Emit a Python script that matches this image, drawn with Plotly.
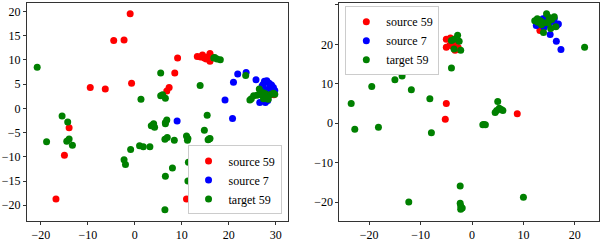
import plotly.graph_objects as go

# Left panel
L_src59_x = [-1, -4.5, -2.3, 9.1, -9.5, -6.3, -0.7, 8.5, 7.3, 6.8, -14, -15, -16.8, 11,
             13.3, 14.4, 14.8, 15.5, 16.0, 16.4, 16.0, 15.2, 14.0, 29.6]
L_src59_y = [19.5, 14, 14.1, 10.4, 4.3, 4.0, 5.2, 7.3, 4.3, 3.6, -4, -9.7, -18.7, -18.7,
             10.7, 11.0, 10.4, 10.6, 11.3, 10.5, 9.7, 10.2, 10.6, 2.8]
L_src7_x = [9.0, 19.2, 21.0, 21.9, 23.7, 20.8, 25.8, 26.6, 27.8, 27.6, 28.1, 28.6, 29.1,
            29.5, 29.8, 27.1, 27.8, 28.6, 29.2, 28.3, 26.8, 27.3]
L_src7_y = [-2.6, 1.7, 5.4, 7.1, 7.4, -2.1, 5.9, 1.2, 1.2, 5.6, 5.7, 5.2, 4.8, 4.3, 3.7,
            4.6, 3.9, 4.0, 3.3, 1.6, 3.5, 4.9]
L_tgt59_x = [-20.8, -18.8, -15.5, -14.3, -14.5, -14.0, -13.3, 1.3, 5.5, 5.5, 5.9, 6.5, 13.9,
             15.4, 14.8, 15.8, 15.6, 16.0, 11.0, 11.3, 11.2, 6.8, 6.5, 6.5, 4.0, 3.5, 4.2,
             3.9, 6.4, 6.9, 8.4, 1.0, 1.8, 3.2, -0.9, -2.3, -2.0, 11.4, 8.0, 6.5, 11.3, 6.4,
             17.0, 17.5, 18.2, 16.8, 23.6, 26.5, 24.5, 24.8, 25.3, 26.0, 26.8, 27.5, 28.0,
             28.5, 29.0, 29.5, 29.8, 28.4, 27.3, 27.8, 27.4]
L_tgt59_y = [8.5, -6.9, -1.6, -2.8, -6.8, -6.3, -7.6, 1.9, 7.3, 2.6, 2.8, 2.1, 4.7,
             -1.4, -4.5, -6.3, -6.5, -6.2, -5.7, -6.2, -6.6, -2.4, -2.9, -3.2, -3.2, -3.6, -3.9,
             -3.4, -6.4, -6.0, -6.6, -7.7, -7.9, -7.9, -8.5, -10.6, -11.6, -11.1, -12.3, -14.0, -15.0, -20.9,
             10.5, 10.2, 10.0, 10.4, 6.8, 4.0, 1.7, 2.0, 2.6, 2.7, 2.8, 2.4, 2.2,
             2.6, 2.9, 3.1, 2.9, 1.9, 3.2, 3.0, 2.0]

# Right panel
R_src59_x = [-5.2, -5.0, 8.8, -5.0, -4.2, -5.0, -4.3, -3.5, -3.3, -3.0, -2.7, -4.0, -3.8, 13.2]
R_src59_y = [1.0, 5.0, 2.4, 21.3, 21.6, 19.3, 19.8, 20.5, 18.5, 19.0, 19.2, 20.5, 19.5, 23.5]
R_src7_x = [17.3, 16.4, 15.2, 12.5, 14.0, 16.8, 15.8, 14.5, 13.8, 16.0, 15.0, 16.5]
R_src7_y = [18.7, 20.8, 22.5, 24.8, 24.3, 25.2, 25.8, 27.0, 26.5, 26.5, 25.0, 24.8]
R_tgt59_x = [21.9, -23.5, -22.8, -19.5, -18.2, -15.0, -13.6, -11.8, -8.2, -7.9, -4.0, -2.2,
             -3.5, -4.0, -2.8, -2.5, -3.5, 2.1, 2.6, 2.3, 4.5, 5.0, 4.8, 5.3, 5.7, 6.0, -2.3,
             -12.3, -2.3, -2.2, -2.2, -1.9, 10.0, 13.9, 12.2, 12.7, 13.3, 14.0, 14.5, 15.0,
             15.5, 16.0, 16.3, 15.3, 13.5, 14.8, 12.8]
R_tgt59_y = [19.3, 5.0, -1.5, 9.3, -1.0, 11.0, 12.0, 8.5, 6.2, -2.4, 14.0, 18.5,
             18.8, 21.0, 22.3, 20.8, 21.3, -0.4, -0.4, -0.3, 2.7, 5.5, 3.2, 3.8, 3.5, 3.2, -15.9,
             -20.0, -20.3, -21.0, -21.8, -21.5, -18.8, 23.0, 26.0, 26.5, 26.0, 25.5, 27.8, 26.8,
             26.3, 27.0, 24.5, 24.0, 25.0, 25.5, 25.6]

names = ["source 59", "source 7", "target 59"]
colors = ["red", "blue", "green"]
FONT = "Liberation Serif, Times New Roman, serif"

fig = go.Figure()
left = [(L_src59_x, L_src59_y), (L_src7_x, L_src7_y), (L_tgt59_x, L_tgt59_y)]
right = [(R_src59_x, R_src59_y), (R_src7_x, R_src7_y), (R_tgt59_x, R_tgt59_y)]
for i, (x, y) in enumerate(left):
    fig.add_trace(go.Scatter(x=x, y=y, mode="markers", name=names[i], legend="legend",
                             marker=dict(color=colors[i], size=7, line=dict(width=0)),
                             xaxis="x", yaxis="y"))
for i, (x, y) in enumerate(right):
    fig.add_trace(go.Scatter(x=x, y=y, mode="markers", name=names[i], legend="legend2",
                             marker=dict(color=colors[i], size=7, line=dict(width=0)),
                             xaxis="x2", yaxis="y2"))

axstyle = dict(showgrid=False, zeroline=False, showline=True, linecolor="#333", linewidth=1,
               mirror=True, ticks="outside", ticklen=3, tickcolor="#333",
               tickfont=dict(family=FONT, size=12, color="black"))

legstyle = dict(bgcolor="white", bordercolor="#cccccc", borderwidth=1,
                font=dict(family=FONT, size=12, color="black"),
                tracegroupgap=0, itemwidth=30)

fig.update_layout(
    width=602, height=244, plot_bgcolor="white", paper_bgcolor="white",
    font=dict(family=FONT),
    margin=dict(l=25, r=2, t=3, b=15),
    xaxis=dict(domain=[0, 0.4557], range=[-22.97, 32.54], tickvals=[-20, -10, 0, 10, 20, 30], **axstyle),
    yaxis=dict(range=[-23.24, 21.73], tickvals=[-20, -15, -10, -5, 0, 5, 10, 15, 20], **axstyle),
    xaxis2=dict(domain=[0.5461, 1.0], range=[-25.8, 24.7], tickvals=[-20, -10, 0, 10, 20], anchor="y2", **axstyle),
    yaxis2=dict(range=[-24.8, 30.5], tickvals=[-20, -10, 0, 10, 20, 30], anchor="x2", **axstyle),
    legend=dict(x=0.445, y=0.03, xanchor="right", yanchor="bottom", **legstyle),
    legend2=dict(x=0.5565, y=0.985, xanchor="left", yanchor="top", **legstyle),
)

fig.write_html("out.html", config={"displayModeBar": False},
               post_script="document.body.style.margin='0';document.body.style.padding='0';"
                           "document.body.style.overflow='hidden';")
